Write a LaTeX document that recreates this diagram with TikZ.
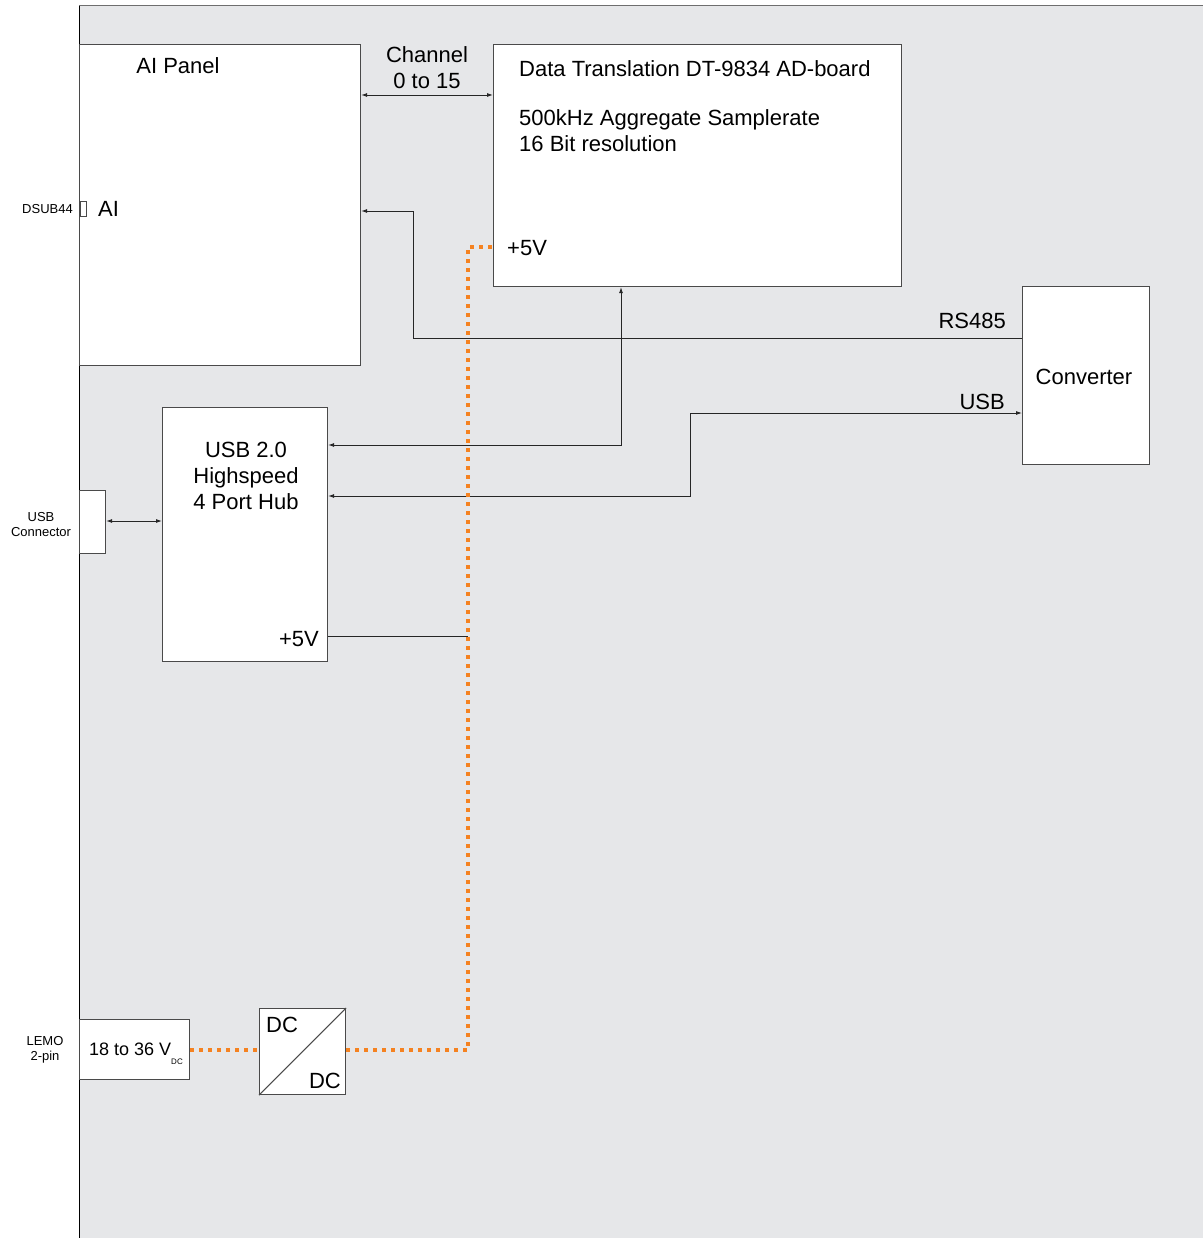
\documentclass[tikz,border=0pt]{standalone}
\usepackage{fontspec}
\setmainfont{Liberation Sans}
\usetikzlibrary{arrows.meta}
\definecolor{bggray}{HTML}{E6E7E9}
\definecolor{pwr}{HTML}{F58220}
\definecolor{edge}{HTML}{4A4A4A}
\begin{document}
\begin{tikzpicture}[x=1pt,y=-1pt,
  blk/.style={draw=edge,line width=1.1pt,fill=white,inner sep=0pt,anchor=north west},
  conn/.style={draw=black!85,line width=0.9pt},
  tip/.style={-{Latex[length=6pt,width=4pt]}},
  both/.style={{Latex[length=6pt,width=4pt]}-{Latex[length=6pt,width=4pt]}},
  power/.style={draw=pwr,line width=4pt,dash pattern=on 4pt off 5pt},
  big/.style={font=\fontsize{22}{26}\selectfont,inner sep=0pt},
  small/.style={font=\fontsize{13}{15}\selectfont,inner sep=0pt,align=center}]
\useasboundingbox (0,0) rectangle (1203,1238);
\fill[white] (0,0) rectangle (1203,1238);
\fill[bggray] (79,6) rectangle (1203,1238);
\draw[edge!80,line width=1pt] (79,6) -- (1203,6);
\draw[black,line width=0.9pt] (79,6) -- (79,1238);

% blocks
\node[blk,minimum width=281pt,minimum height=321pt] (ai) at (79,44) {};
\node[blk,minimum width=408pt,minimum height=242pt] (ad) at (493,44) {};
\node[blk,minimum width=127pt,minimum height=178pt] (conv) at (1022,286) {};
\node[blk,minimum width=165pt,minimum height=254pt] (hub) at (162,407) {};
\node[blk,minimum width=26pt,minimum height=63pt] (usbc) at (79,490) {};
\node[blk,line width=0.8pt,minimum width=6pt,minimum height=15pt] (dsub) at (80,201) {};
\node[blk,minimum width=110pt,minimum height=60pt] (lemo) at (79,1019) {};
\node[blk,minimum width=86pt,minimum height=86pt] (dcdc) at (259,1008) {};
\draw[edge,line width=1.1pt] (dcdc.south west) -- (dcdc.north east);

% texts
\node[big] (aititle) at (178,66) {AI Panel};
\node[big,anchor=west] (aiin) at (98,209) {AI};
\node[small,anchor=east] (dsubl) at (73,209) {DSUB44};
\node[big,align=center] (chan) at (427,68) {Channel\\0 to 15};
\node[big,anchor=west] (adt1) at (519,69) {Data Translation DT-9834 AD-board};
\node[big,anchor=west,align=left] (adt2) at (519,131) {500kHz Aggregate Samplerate\\16 Bit resolution};
\node[big,anchor=west] (ad5v) at (507,248) {+5V};
\node[big] (convt) at (1084,377) {Converter};
\node[big,anchor=east] (rs) at (1006,321) {RS485};
\node[big,anchor=east] (usbl) at (1005,402) {USB};
\node[big,align=center] (hubt) at (246,476) {USB 2.0\\Highspeed\\4 Port Hub};
\node[big,anchor=east] (hub5v) at (319,639) {+5V};
\node[small] (usbcl) at (41,525) {USB\\Connector};
\node[small] (lemol) at (45,1050) {LEMO\\2-pin};
\node[font=\fontsize{18}{22}\selectfont,inner sep=0pt,anchor=west] (lemot) at (89,1049) {18 to 36 V};
\node[font=\fontsize{8}{9}\selectfont,inner sep=0pt] (lemodc) at (177,1062) {DC};
\node[big,anchor=north west] (dc1) at (266,1017) {DC};
\node[big,anchor=south east] (dc2) at (341,1089) {DC};

% connectors
\draw[conn,both] (ai.east |- 0,95) -- (ad.west |- 0,95);
\coordinate (rsA) at (413,338);
\coordinate (rsB) at (413,211);
\draw[conn,tip] (conv.west |- 0,338) -- (rsA) -- (rsB) -- (ai.east |- rsB);
\coordinate (hA) at (621,445);
\draw[conn,both] (hub.east |- hA) -- (hA) -- (ad.south -| hA);
\coordinate (uA) at (690,496);
\coordinate (uB) at (690,413);
\draw[conn,both] (hub.east |- uA) -- (uA) -- (uB) -- (conv.west |- uB);
\draw[conn,both] (usbc.east |- 0,521) -- (hub.west |- 0,521);
\coordinate (p5) at (468,636);
\draw[conn] (hub.east |- p5) -- (p5);

% power
\coordinate (pA) at (468,1050);
\coordinate (pB) at (468,247);
\draw[power] (lemo.east |- pA) -- (dcdc.west |- pA);
\draw[power] (dcdc.east |- pA) -- (pA) -- (pB) -- (ad.west |- pB);
\end{tikzpicture}
\end{document}
